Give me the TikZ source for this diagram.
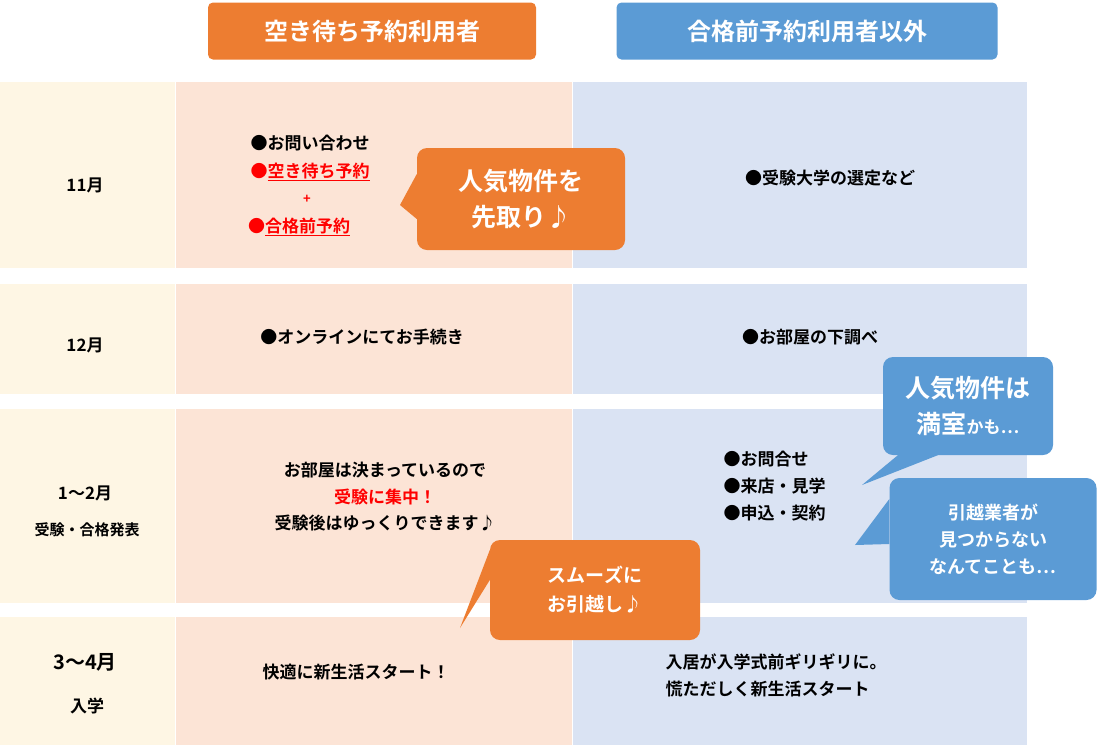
\documentclass[tikz,border=0pt]{standalone}
\usepackage{fontspec}
\setmainfont{Noto Sans CJK JP}[BoldFont={Noto Sans CJK JP Bold}]
\definecolor{kirei}{HTML}{FEF6E4}
\definecolor{momo}{HTML}{FCE4D6}
\definecolor{sora}{HTML}{DAE3F3}
\definecolor{daidai}{HTML}{ED7D31}
\definecolor{ao}{HTML}{5B9BD5}
\definecolor{aka}{HTML}{FF0000}
\begin{document}
\begin{tikzpicture}[x=1pt,y=-1pt]
	\tikzset{moji/.style={font=\bfseries\fontsize{17}{23}\selectfont, align=center},
		hidari/.style={font=\bfseries\fontsize{17}{27}\selectfont, align=left},
		midashi/.style={font=\bfseries\fontsize{24}{28}\selectfont, text=white, rounded corners=5pt, minimum height=57pt, inner sep=0pt},
		fukidashi/.style={font=\bfseries\fontsize{25}{36}\selectfont, text=white, align=center, rounded corners=10pt, inner sep=0pt},
		aka/.style={text=aka}};

	\useasboundingbox (0,0) rectangle (1100,745);

	% bands
	\foreach \ya/\yb in {82/268, 284/394, 409/603, 617/745} {
		\fill[kirei] (0,\ya) rectangle (175,\yb);
		\fill[momo] (176,\ya) rectangle (572,\yb);
		\fill[sora] (573,\ya) rectangle (1027,\yb);
	}

	% headings
	\node[midashi, fill=daidai, minimum width=328pt] (h1) at (372,31) {空き待ち予約利用者};
	\node[midashi, fill=ao, minimum width=381pt] (h2) at (807,31) {合格前予約利用者以外};

	% months
	\node[moji] (m1) at (85,185) {11月};
	\node[moji] (m2) at (85,345) {12月};
	\node[moji] (m3) at (85,493) {1～2月};
	\node[moji, font=\bfseries\fontsize{15}{20}\selectfont] (m3b) at (87,530) {受験・合格発表};
	\node[moji, font=\bfseries\fontsize{20}{24}\selectfont] (m4) at (85,662) {3～4月};
	\node[moji] (m4b) at (87,706) {入学};

	% left column
	\node[moji] (a1) at (310,143) {●お問い合わせ};
	\node[moji, aka] (a2) at (310,172) {●\underline{空き待ち予約}};
	\node[moji, aka, font=\bfseries\fontsize{13}{15}\selectfont] (a3) at (307,199) {+};
	\node[moji, aka] (a4) at (299,227) {●\underline{合格前予約}};
	\node[moji] (b1) at (362,337) {●オンラインにてお手続き};
	\node[moji] (c1) at (385,470) {お部屋は決まっているので};
	\node[moji, aka] (c2) at (385,497) {受験に集中！};
	\node[moji] (c3) at (385,523) {受験後はゆっくりできます♪};
	\node[moji] (d1) at (356,672) {快適に新生活スタート！};

	% right column
	\node[moji] (e1) at (830,178) {●受験大学の選定など};
	\node[moji] (f1) at (810,337) {●お部屋の下調べ};
	\node[hidari, anchor=north west] (g1) at (720,448) {●お問合せ\\●来店・見学\\●申込・契約};
	\node[hidari, anchor=north west] (k1) at (662,650) {入居が入学式前ギリギリに。\\慌ただしく新生活スタート};

	% callouts
	\node[fukidashi, fill=daidai, minimum width=208pt, minimum height=102pt] (p1) at (521,199) {人気物件を\\先取り♪};
	\coordinate (t1) at (400,205);
	\fill[daidai] (t1) -- ([yshift=-20pt]p1.west) -- ([yshift=25pt]p1.west) -- cycle;

	\node[fukidashi, fill=ao, minimum width=170pt, minimum height=98pt] (p2) at (968,406) {人気物件は\\満室{\fontsize{17}{20}\selectfont かも…}};
	\coordinate (t2) at (862,485);
	\fill[ao] (t2) -- ([xshift=15pt]p2.south west) -- ([xshift=55pt]p2.south west) -- cycle;

	\node[fukidashi, fill=ao, minimum width=207pt, minimum height=122pt, font=\bfseries\fontsize{18}{27}\selectfont] (p3) at (993,539) {引越業者が\\見つからない\\なんてことも…};
	\coordinate (t3) at (855,545);
	\fill[ao] (t3) -- ([yshift=-5pt]p3.west) -- ([yshift=40pt]p3.west) -- cycle;

	\node[fukidashi, fill=daidai, minimum width=210pt, minimum height=100pt, font=\bfseries\fontsize{19}{29}\selectfont] (p4) at (595,590) {スムーズに\\お引越し♪};
	\coordinate (t4) at (460,628);
	\fill[daidai] (t4) -- ([yshift=10pt]p4.west) -- ([yshift=40pt]p4.west) -- cycle;

\end{tikzpicture}
\end{document}
